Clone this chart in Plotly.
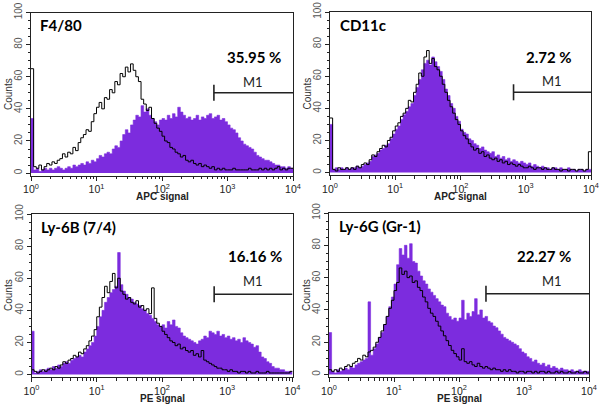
import numpy as np
import plotly.graph_objects as go

# ---------------- data (counts per channel, 25 channels per decade, 10^0..10^4) -------------
panel_titles = ["F4/80", "CD11c", "Ly-6B (7/4)", "Ly-6G (Gr-1)"]
axis_labels = ["APC signal", "APC signal", "PE signal", "PE signal"]
m1_percent = ["35.95 %", "2.72 %", "16.16 %", "22.27 %"]
m1_gate_start = [620, 650, 630, 260]
m1_gate_end = [10000, 10000, 10000, 10000]
m1_level = [50, 50, 50, 50]
channels_per_decade = 25
n_decades = 4

f480_stained = [
    34, 2, 3, 1, 2, 3, 2, 3, 2, 3, 4, 3, 2, 3, 4, 3, 5, 4, 5, 6, 5, 7, 6, 8, 7,
    9, 11, 10, 12, 13, 12, 15, 17, 16, 20, 24, 27, 25, 30, 33, 36, 35, 42, 38, 40, 36, 34, 32, 30, 33,
    34, 33, 36, 34, 37, 35, 41, 38, 36, 34, 35, 33, 34, 36, 33, 35, 34, 36, 37, 34, 35, 36, 33, 34, 32,
    30, 28, 27, 25, 22, 20, 18, 17, 16, 15, 13, 11, 10, 9, 8, 8, 7, 6, 5, 5, 4, 4, 3, 4, 3,
]
f480_control = [
    65, 4, 3, 5, 2, 4, 6, 5, 7, 6, 8, 9, 12, 10, 13, 12, 16, 14, 19, 22, 24, 27, 26, 32, 37,
    41, 44, 40, 47, 46, 52, 50, 57, 55, 62, 60, 66, 63, 68, 64, 60, 57, 46, 43, 39, 41, 34, 31, 28, 26,
    23, 20, 19, 16, 15, 13, 12, 10, 11, 8, 7, 8, 6, 5, 6, 4, 5, 4, 3, 4, 2, 3, 2, 3, 2,
    2, 2, 3, 2, 2, 2, 2, 2, 3, 2, 2, 2, 3, 2, 3, 2, 3, 2, 3, 4, 2, 3, 2, 3, 3,
]
cd11c_stained = [
    30, 2, 3, 2, 3, 2, 3, 2, 3, 3, 4, 3, 4, 5, 6, 7, 10, 11, 12, 14, 15, 17, 18, 21, 24,
    27, 29, 33, 36, 38, 41, 43, 48, 53, 58, 64, 68, 70, 67, 72, 69, 66, 63, 58, 52, 48, 43, 40, 35, 32,
    27, 25, 24, 21, 20, 18, 17, 15, 16, 14, 13, 12, 13, 10, 11, 9, 10, 8, 9, 7, 8, 7, 6, 7, 6,
    5, 6, 4, 5, 4, 3, 4, 3, 3, 2, 3, 3, 2, 3, 2, 2, 3, 2, 2, 1, 2, 2, 1, 2, 2,
]
cd11c_control = [
    34, 2, 1, 3, 2, 2, 3, 2, 3, 2, 4, 3, 5, 6, 5, 8, 11, 10, 13, 15, 17, 16, 20, 22, 26,
    29, 31, 35, 37, 40, 45, 44, 50, 55, 62, 60, 72, 76, 68, 71, 66, 64, 60, 55, 50, 45, 41, 37, 33, 30,
    26, 23, 21, 18, 16, 14, 15, 12, 13, 10, 11, 9, 8, 9, 7, 8, 6, 7, 5, 6, 5, 4, 5, 4, 3,
    3, 4, 3, 2, 3, 3, 2, 3, 2, 2, 3, 2, 2, 1, 2, 2, 1, 2, 2, 1, 2, 2, 1, 2, 13,
]
ly6b_stained = [
    27, 1, 2, 3, 2, 3, 4, 3, 5, 4, 6, 5, 7, 8, 7, 9, 10, 11, 12, 11, 14, 16, 18, 20, 24,
    30, 36, 40, 45, 48, 51, 53, 55, 76, 56, 52, 50, 48, 47, 45, 44, 43, 41, 40, 38, 37, 35, 33, 31, 30,
    31, 29, 33, 31, 34, 30, 29, 26, 24, 23, 22, 21, 20, 19, 21, 22, 24, 23, 27, 26, 25, 27, 24, 25, 23,
    24, 22, 23, 21, 22, 20, 23, 21, 20, 19, 17, 18, 14, 11, 10, 8, 7, 5, 4, 4, 3, 3, 2, 2, 2,
]
ly6b_control = [
    3, 2, 1, 2, 3, 2, 3, 4, 3, 5, 4, 6, 8, 7, 9, 10, 12, 11, 14, 13, 16, 18, 21, 24, 28,
    36, 42, 48, 55, 51, 58, 63, 54, 60, 52, 50, 47, 48, 45, 44, 46, 42, 43, 40, 41, 38, 54, 35, 32, 30,
    27, 25, 23, 21, 20, 18, 19, 16, 17, 15, 14, 15, 12, 13, 11, 15, 9, 8, 7, 6, 5, 4, 4, 3, 3,
    2, 3, 2, 2, 1, 2, 2, 1, 2, 1, 1, 2, 1, 1, 1, 2, 1, 1, 1, 1, 1, 1, 1, 1, 2,
]
ly6g_stained = [
    26, 2, 1, 3, 2, 3, 4, 3, 5, 4, 6, 7, 8, 9, 10, 45, 12, 16, 19, 23, 26, 31, 36, 42, 48,
    56, 68, 78, 74, 80, 72, 81, 70, 69, 64, 61, 58, 56, 53, 51, 49, 47, 45, 43, 42, 38, 36, 34, 35, 33,
    35, 46, 34, 38, 36, 39, 47, 37, 40, 35, 36, 33, 32, 30, 29, 27, 25, 23, 22, 21, 20, 19, 18, 16, 14,
    13, 11, 10, 8, 9, 7, 6, 7, 5, 6, 4, 5, 4, 3, 4, 3, 3, 2, 3, 2, 2, 3, 2, 2, 2,
]
ly6g_control = [
    3, 2, 3, 2, 4, 3, 5, 6, 5, 7, 8, 10, 9, 12, 11, 14, 15, 17, 20, 23, 27, 31, 36, 41, 46,
    52, 57, 66, 62, 64, 60, 61, 57, 58, 54, 52, 48, 45, 41, 38, 36, 33, 30, 27, 24, 21, 18, 15, 13, 11,
    9, 16, 8, 7, 8, 6, 5, 7, 5, 4, 5, 4, 3, 4, 3, 3, 2, 3, 2, 3, 2, 2, 1, 2, 2,
    1, 2, 2, 1, 2, 1, 2, 2, 1, 2, 1, 1, 2, 1, 2, 1, 1, 2, 1, 1, 2, 1, 1, 2, 1,
]

stained = [f480_stained, cd11c_stained, ly6b_stained, ly6g_stained]
control = [f480_control, cd11c_control, ly6b_control, ly6g_control]

x_tick_vals = [1, 10, 100, 1000, 10000]
x_tick_text = ["10<sup>0</sup>", "10<sup>1</sup>", "10<sup>2</sup>", "10<sup>3</sup>", "10<sup>4</sup>"]
y_tick_vals = [0, 20, 40, 60, 80, 100]

# ---------------- layout geometry (pixels) ----------------
W, H = 600, 406
panels_px = [  # x0, x1, ytop, ybottom
    (31, 293, 12.5, 175.5),
    (330, 591, 12.0, 175.0),
    (31.5, 292.5, 214, 377),
    (329, 589, 213, 377),
]

PURPLE = "rgb(124,44,222)"
edges = 10 ** (np.arange(channels_per_decade * n_decades + 1) / channels_per_decade)
minor_x = [m * 10 ** d for d in range(n_decades) for m in range(2, 10)]

fig = go.Figure()
for i in range(4):
    xa = "x" if i == 0 else f"x{i+1}"
    ya = "y" if i == 0 else f"y{i+1}"
    ys = list(stained[i]) + [stained[i][-1]]
    yc = list(control[i]) + [control[i][-1]]
    fig.add_trace(go.Scatter(x=edges, y=ys, mode="lines", line=dict(shape="hv", color=PURPLE, width=0.6),
                             fill="tozeroy", fillcolor=PURPLE, xaxis=xa, yaxis=ya, showlegend=False,
                             hoverinfo="skip"))
    fig.add_trace(go.Scatter(x=edges, y=yc, mode="lines", line=dict(shape="hv", color="black", width=1.0),
                             xaxis=xa, yaxis=ya, showlegend=False, hoverinfo="skip"))
    # M1 gate bar
    fig.add_trace(go.Scatter(x=[m1_gate_start[i], m1_gate_end[i]], y=[m1_level[i], m1_level[i]],
                             mode="lines", line=dict(color="#222", width=1.6),
                             xaxis=xa, yaxis=ya, showlegend=False, hoverinfo="skip"))
    fig.add_trace(go.Scatter(x=[m1_gate_start[i], m1_gate_start[i]], y=[m1_level[i] - 5, m1_level[i] + 5],
                             mode="lines", line=dict(color="#222", width=1.6),
                             xaxis=xa, yaxis=ya, showlegend=False, hoverinfo="skip"))

    x0, x1, yt, yb = panels_px[i]
    xkey = "xaxis" if i == 0 else f"xaxis{i+1}"
    ykey = "yaxis" if i == 0 else f"yaxis{i+1}"
    fig.layout[xkey] = dict(
        type="log", range=[0, 4], domain=[x0 / W, x1 / W], anchor=ya, automargin=False,
        showline=True, mirror=True, linecolor="#222", linewidth=1,
        showgrid=False, zeroline=False,
        tickmode="array", tickvals=x_tick_vals, ticktext=x_tick_text,
        ticks="outside", ticklen=4, tickcolor="#222",
        tickfont=dict(family="Liberation Sans", size=10.5, color="#222"),
        minor=dict(tickmode="array", tickvals=minor_x, ticks="outside", ticklen=2.5, tickcolor="#222"),
        fixedrange=True,
    )
    fig.layout[ykey] = dict(
        range=[-1.5, 100], domain=[1 - yb / H, 1 - yt / H], anchor=xa, automargin=False,
        showline=True, mirror=True, linecolor="#222", linewidth=1,
        showgrid=False, zeroline=False,
        tickmode="array", tickvals=y_tick_vals, tickangle=-90,
        ticks="outside", ticklen=4, tickcolor="#222",
        tickfont=dict(family="Liberation Sans", size=10, color="#555"),
        minor=dict(dtick=5, ticks="outside", ticklen=2, tickcolor="#222"),
        fixedrange=True,
    )

annotations = []
title_pos = [(0.11, 92), (0.12, 92), (0.11, 92), (0.12, 92)]
pct_pos = [(3.40, 72), (3.35, 72), (3.42, 74), (3.30, 73.5)]
m1_pos = [(3.39, 57), (3.40, 57), (3.40, 58.5), (3.43, 58)]
for i in range(4):
    xa = "x" if i == 0 else f"x{i+1}"
    ya = "y" if i == 0 else f"y{i+1}"
    annotations.append(dict(x=title_pos[i][0], y=title_pos[i][1], xref=xa, yref=ya, text=f"<b>{panel_titles[i]}</b>",
                            showarrow=False, xanchor="left", yanchor="middle",
                            font=dict(family="Lato", size=15, color="black")))
    annotations.append(dict(x=pct_pos[i][0], y=pct_pos[i][1], xref=xa, yref=ya, text=f"<b>{m1_percent[i]}</b>",
                            showarrow=False, xanchor="center", yanchor="middle",
                            font=dict(family="Lato", size=15, color="black")))
    annotations.append(dict(x=m1_pos[i][0], y=m1_pos[i][1], xref=xa, yref=ya, text="M1",
                            showarrow=False, xanchor="center", yanchor="middle",
                            font=dict(family="Lato", size=13, color="#222")))
    x0, x1, yt, yb = panels_px[i]
    annotations.append(dict(x=(x0 + x1) / 2 / W, y=1 - (yb + 21) / H, xref="paper", yref="paper",
                            text=f"<b>{axis_labels[i]}</b>", showarrow=False, xanchor="center", yanchor="middle",
                            font=dict(family="Liberation Sans", size=10, color="#222")))
    annotations.append(dict(x=(x0 - 23) / W, y=1 - ((yt + yb) / 2) / H, xref="paper", yref="paper",
                            text="Counts", textangle=-90, showarrow=False, xanchor="center", yanchor="middle",
                            font=dict(family="Liberation Sans", size=10, color="#333")))

fig.update_layout(width=W, height=H, margin=dict(l=0, r=0, t=0, b=0, pad=0, autoexpand=False),
                  paper_bgcolor="white", plot_bgcolor="white", annotations=annotations)

fig.write_html("out.html", config={"displayModeBar": False},
               post_script="document.body.style.margin='0';document.body.style.padding='0';")
